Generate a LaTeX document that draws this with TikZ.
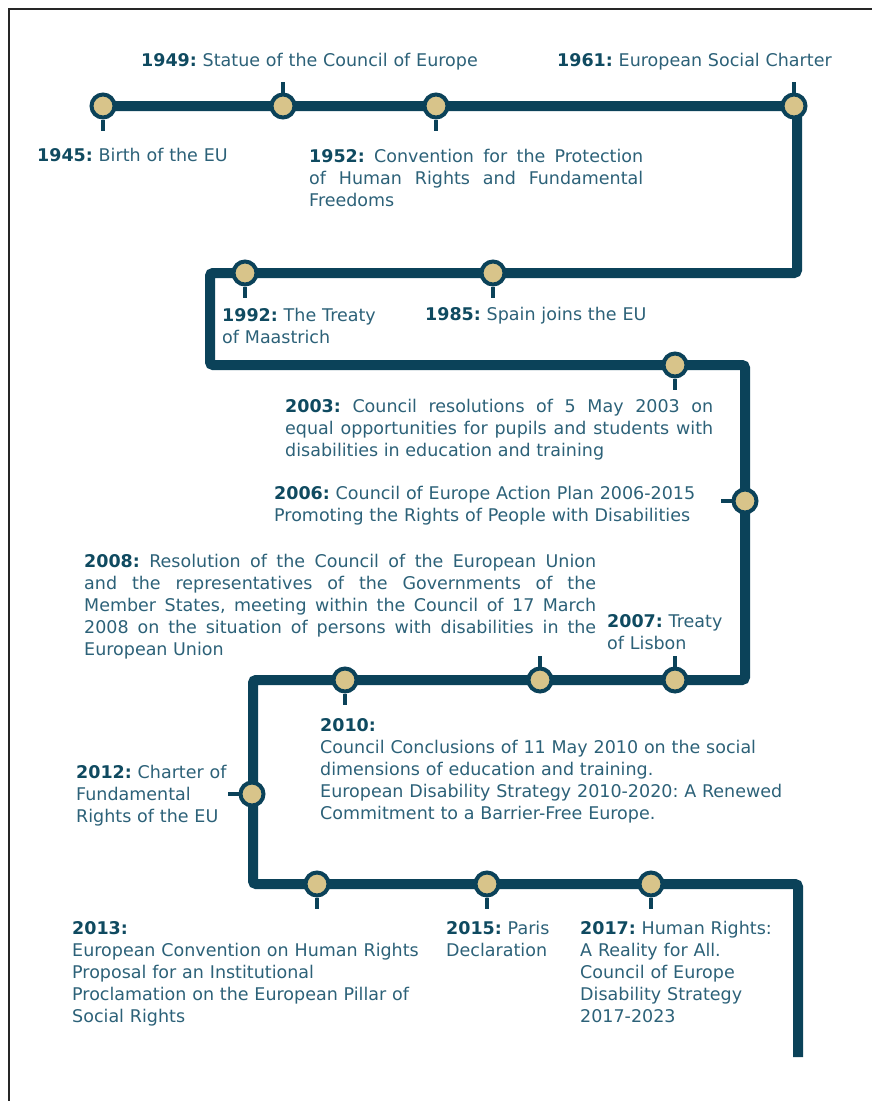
\documentclass[tikz,border=0pt]{standalone}
\usepackage{fontspec}
\setmainfont{DejaVu Sans}
\usepackage{xcolor}
\usetikzlibrary{positioning,backgrounds}

\definecolor{trackblue}{HTML}{0B4259}
\definecolor{stopsand}{HTML}{D8C48A}
\definecolor{yearblue}{HTML}{0F4A60}
\definecolor{noteblue}{HTML}{2C6178}

\newcommand{\yr}[1]{\textbf{\color{yearblue}#1:}}
\frenchspacing

\begin{document}
\begin{tikzpicture}[
        x=1pt, y=-1pt,
        track/.style={draw=trackblue, line width=10pt, rounded corners=3pt},
        stopdot/.style={circle, draw=trackblue, fill=stopsand, line width=4pt, minimum size=23pt, inner sep=0pt},
        stoptick/.style={draw=trackblue, line width=4pt},
        eventtxt/.style={anchor=base west, inner sep=0pt, text=noteblue, font=\fontsize{17.5}{22}\selectfont, text width=#1, align=left},
        eventtxt/.default=480pt,
        eventjust/.style={eventtxt=#1, align=justify}
    ]
    \useasboundingbox (0,0) rectangle (872,1101);
    \draw[line width=2pt, black!85] (9,1101) -- (9,9) -- (872,9);

    % stops
    \node[stopdot] (s1945) at (103,106) {};
    \node[stopdot] (s1949) at (283,106) {};
    \node[stopdot] (s1952) at (436,106) {};
    \node[stopdot] (s1961) at (794,106) {};
    \node[stopdot] (s1992) at (245,273) {};
    \node[stopdot] (s1985) at (493,273) {};
    \node[stopdot] (s2003) at (675,365) {};
    \node[stopdot] (s2006) at (745,501) {};
    \node[stopdot] (s2010) at (345,680) {};
    \node[stopdot] (s2008) at (540,680) {};
    \node[stopdot] (s2007) at (675,680) {};
    \node[stopdot] (s2012) at (252,794) {};
    \node[stopdot] (s2013) at (317,884) {};
    \node[stopdot] (s2015) at (487,884) {};
    \node[stopdot] (s2017) at (651,884) {};

    % bends of the track
    \coordinate (k1) at (797,106);
    \coordinate (k2) at (797,273);
    \coordinate (k3) at (210,273);
    \coordinate (k4) at (210,365);
    \coordinate (k5) at (745,365);
    \coordinate (k6) at (745,680);
    \coordinate (k7) at (253,680);
    \coordinate (k8) at (253,884);
    \coordinate (k9) at (798,884);
    \coordinate (kend) at (798,1057);

    \begin{scope}[on background layer]
        \draw[track] (s1945.center) -- (k1) -- (k2) -- (k3) -- (k4) -- (k5) -- (k6)
            -- (k7) -- (k8) -- (k9) -- (kend);
    \end{scope}

    % ticks
    \foreach \s in {s1945,s1952,s1992,s1985,s2003,s2010,s2013,s2015,s2017}
        \draw[stoptick] (\s.south) -- ++(0,11);
    \foreach \s in {s1949,s1961,s2008,s2007}
        \draw[stoptick] (\s.north) -- ++(0,-11);
    \foreach \s in {s2006,s2012}
        \draw[stoptick] (\s.west) -- ++(-11,0);

    % events
    \node[eventtxt] (t1949) at (141,66) {\yr{1949} Statue of the Council of Europe};
    \node[eventtxt] (t1961) at (557,66) {\yr{1961} European Social Charter};
    \node[eventtxt] (t1945) at (37,161) {\yr{1945} Birth of the EU};
    \node[eventjust=334pt] (t1952) at (309,162) {\yr{1952} Convention for the Protection\linebreak of Human Rights and Fundamental\linebreak Freedoms};
    \node[eventtxt] (t1992) at (222,321) {\yr{1992} The Treaty\\of Maastrich};
    \node[eventtxt] (t1985) at (425,320) {\yr{1985} Spain joins the EU};
    \node[eventjust=428pt] (t2003) at (285,412) {\yr{2003} Council resolutions of 5 May 2003 on\linebreak equal opportunities for pupils and students with\linebreak disabilities in education and training};
    \node[eventtxt] (t2006) at (274,499) {\yr{2006} Council of Europe Action Plan 2006-2015\\Promoting the Rights of People with Disabilities};
    \node[eventjust=512pt] (t2008) at (84,567) {\yr{2008} Resolution of the Council of the European Union\linebreak and the representatives of the Governments of the\linebreak Member States, meeting within the Council of 17 March\linebreak 2008 on the situation of persons with disabilities in the\linebreak European Union};
    \node[eventtxt] (t2007) at (607,627) {\yr{2007} Treaty\\of Lisbon};
    \node[eventtxt] (t2010) at (320,731) {\yr{2010}\\Council Conclusions of 11 May 2010 on the social\\dimensions of education and training.\\European Disability Strategy 2010-2020: A Renewed\\Commitment to a Barrier-Free Europe.};
    \node[eventtxt] (t2012) at (76,778) {\yr{2012} Charter of\\Fundamental\\Rights of the EU};
    \node[eventtxt] (t2013) at (72,934) {\yr{2013}\\European Convention on Human Rights\\Proposal for an Institutional\\Proclamation on the European Pillar of\\Social Rights};
    \node[eventtxt] (t2015) at (446,934) {\yr{2015} Paris\\Declaration};
    \node[eventtxt] (t2017) at (580,934) {\yr{2017} Human Rights:\\A Reality for All.\\Council of Europe\\Disability Strategy\\2017-2023};

\end{tikzpicture}
\end{document}
